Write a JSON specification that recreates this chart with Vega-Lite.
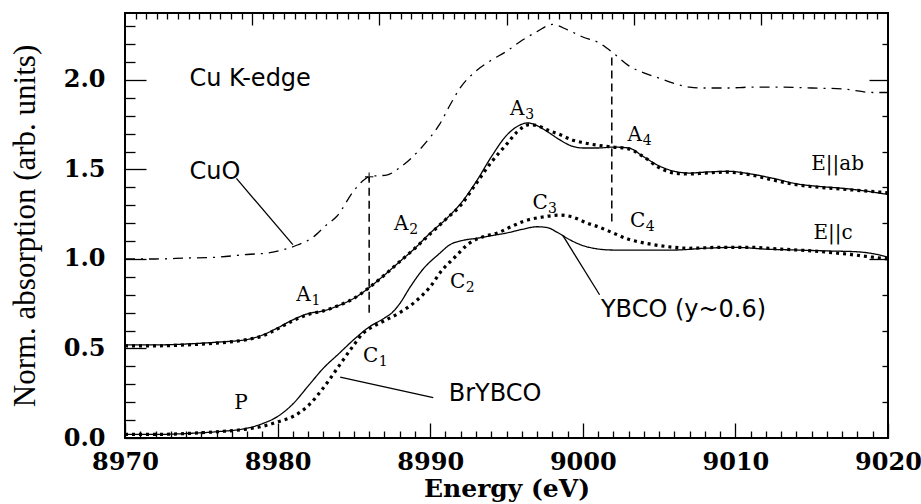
{
  "$schema": "https://vega.github.io/schema/vega-lite/v6.json",
  "width": 763,
  "height": 425,
  "autosize": {"type": "none"},
  "padding": {"left": 125, "top": 13, "right": 33, "bottom": 66},
  "background": "white",
  "config": {
    "view": {"stroke": "black", "strokeWidth": 2},
    "axis": {"domain": false, "grid": false, "labelOverlap": false, "labelBound": false, "labelFlush": false}
  },
  "datasets": {
    "curves": [
      {"series": "CuO", "E": 8970, "mu": 1.0},
      {"series": "CuO", "E": 8972, "mu": 1.0},
      {"series": "CuO", "E": 8974, "mu": 1.005},
      {"series": "CuO", "E": 8976, "mu": 1.01},
      {"series": "CuO", "E": 8978, "mu": 1.025},
      {"series": "CuO", "E": 8979.5, "mu": 1.035},
      {"series": "CuO", "E": 8980.5, "mu": 1.055},
      {"series": "CuO", "E": 8981.3, "mu": 1.078},
      {"series": "CuO", "E": 8982.3, "mu": 1.12},
      {"series": "CuO", "E": 8983.2, "mu": 1.19},
      {"series": "CuO", "E": 8983.9, "mu": 1.24},
      {"series": "CuO", "E": 8984.9, "mu": 1.37},
      {"series": "CuO", "E": 8985.5, "mu": 1.43},
      {"series": "CuO", "E": 8986, "mu": 1.46},
      {"series": "CuO", "E": 8987.2, "mu": 1.47},
      {"series": "CuO", "E": 8988, "mu": 1.51},
      {"series": "CuO", "E": 8989.3, "mu": 1.61},
      {"series": "CuO", "E": 8990, "mu": 1.68},
      {"series": "CuO", "E": 8990.6, "mu": 1.75},
      {"series": "CuO", "E": 8991.3, "mu": 1.86},
      {"series": "CuO", "E": 8992, "mu": 1.96},
      {"series": "CuO", "E": 8993, "mu": 2.05},
      {"series": "CuO", "E": 8994, "mu": 2.11},
      {"series": "CuO", "E": 8995, "mu": 2.16},
      {"series": "CuO", "E": 8996, "mu": 2.22},
      {"series": "CuO", "E": 8997, "mu": 2.27},
      {"series": "CuO", "E": 8998, "mu": 2.31},
      {"series": "CuO", "E": 8999, "mu": 2.28},
      {"series": "CuO", "E": 9000, "mu": 2.24},
      {"series": "CuO", "E": 9001, "mu": 2.21},
      {"series": "CuO", "E": 9002, "mu": 2.15},
      {"series": "CuO", "E": 9003, "mu": 2.08},
      {"series": "CuO", "E": 9004, "mu": 2.04},
      {"series": "CuO", "E": 9005, "mu": 2.01},
      {"series": "CuO", "E": 9006, "mu": 1.98},
      {"series": "CuO", "E": 9007, "mu": 1.96},
      {"series": "CuO", "E": 9008, "mu": 1.955},
      {"series": "CuO", "E": 9009.5, "mu": 1.955},
      {"series": "CuO", "E": 9011, "mu": 1.96},
      {"series": "CuO", "E": 9013, "mu": 1.96},
      {"series": "CuO", "E": 9015, "mu": 1.955},
      {"series": "CuO", "E": 9017, "mu": 1.95},
      {"series": "CuO", "E": 9019, "mu": 1.93},
      {"series": "CuO", "E": 9020, "mu": 1.93},
      {"series": "YBCO ab", "E": 8970, "mu": 0.52},
      {"series": "YBCO ab", "E": 8972, "mu": 0.52},
      {"series": "YBCO ab", "E": 8974, "mu": 0.525},
      {"series": "YBCO ab", "E": 8976, "mu": 0.535},
      {"series": "YBCO ab", "E": 8978, "mu": 0.55},
      {"series": "YBCO ab", "E": 8979, "mu": 0.575},
      {"series": "YBCO ab", "E": 8980, "mu": 0.615},
      {"series": "YBCO ab", "E": 8981, "mu": 0.66},
      {"series": "YBCO ab", "E": 8982, "mu": 0.695},
      {"series": "YBCO ab", "E": 8983, "mu": 0.71},
      {"series": "YBCO ab", "E": 8984, "mu": 0.74},
      {"series": "YBCO ab", "E": 8985, "mu": 0.78},
      {"series": "YBCO ab", "E": 8986, "mu": 0.84},
      {"series": "YBCO ab", "E": 8987, "mu": 0.91},
      {"series": "YBCO ab", "E": 8988, "mu": 0.985},
      {"series": "YBCO ab", "E": 8989, "mu": 1.06},
      {"series": "YBCO ab", "E": 8990, "mu": 1.145},
      {"series": "YBCO ab", "E": 8991, "mu": 1.22},
      {"series": "YBCO ab", "E": 8992, "mu": 1.31},
      {"series": "YBCO ab", "E": 8993, "mu": 1.43},
      {"series": "YBCO ab", "E": 8994, "mu": 1.57},
      {"series": "YBCO ab", "E": 8995, "mu": 1.69},
      {"series": "YBCO ab", "E": 8995.7, "mu": 1.74},
      {"series": "YBCO ab", "E": 8996.4, "mu": 1.76},
      {"series": "YBCO ab", "E": 8997, "mu": 1.745},
      {"series": "YBCO ab", "E": 8997.7, "mu": 1.71},
      {"series": "YBCO ab", "E": 8998.5, "mu": 1.665},
      {"series": "YBCO ab", "E": 8999.3, "mu": 1.63},
      {"series": "YBCO ab", "E": 9000, "mu": 1.62},
      {"series": "YBCO ab", "E": 9001, "mu": 1.62},
      {"series": "YBCO ab", "E": 9002, "mu": 1.625},
      {"series": "YBCO ab", "E": 9003, "mu": 1.62},
      {"series": "YBCO ab", "E": 9004, "mu": 1.57},
      {"series": "YBCO ab", "E": 9005, "mu": 1.52},
      {"series": "YBCO ab", "E": 9006, "mu": 1.49},
      {"series": "YBCO ab", "E": 9007, "mu": 1.48},
      {"series": "YBCO ab", "E": 9008, "mu": 1.485},
      {"series": "YBCO ab", "E": 9009.5, "mu": 1.49},
      {"series": "YBCO ab", "E": 9011, "mu": 1.475},
      {"series": "YBCO ab", "E": 9012.5, "mu": 1.45},
      {"series": "YBCO ab", "E": 9014, "mu": 1.42},
      {"series": "YBCO ab", "E": 9015.5, "mu": 1.405},
      {"series": "YBCO ab", "E": 9017, "mu": 1.395},
      {"series": "YBCO ab", "E": 9018.5, "mu": 1.38},
      {"series": "YBCO ab", "E": 9020, "mu": 1.36},
      {"series": "YBCO c", "E": 8970, "mu": 0.02},
      {"series": "YBCO c", "E": 8972, "mu": 0.02},
      {"series": "YBCO c", "E": 8974, "mu": 0.025},
      {"series": "YBCO c", "E": 8976, "mu": 0.035},
      {"series": "YBCO c", "E": 8978, "mu": 0.055},
      {"series": "YBCO c", "E": 8979, "mu": 0.08},
      {"series": "YBCO c", "E": 8980, "mu": 0.12},
      {"series": "YBCO c", "E": 8981, "mu": 0.19},
      {"series": "YBCO c", "E": 8982, "mu": 0.29},
      {"series": "YBCO c", "E": 8983, "mu": 0.39},
      {"series": "YBCO c", "E": 8984, "mu": 0.47},
      {"series": "YBCO c", "E": 8985, "mu": 0.55},
      {"series": "YBCO c", "E": 8986, "mu": 0.62},
      {"series": "YBCO c", "E": 8987, "mu": 0.67},
      {"series": "YBCO c", "E": 8987.5, "mu": 0.70},
      {"series": "YBCO c", "E": 8988, "mu": 0.75},
      {"series": "YBCO c", "E": 8988.7, "mu": 0.845},
      {"series": "YBCO c", "E": 8989.5, "mu": 0.94},
      {"series": "YBCO c", "E": 8990.6, "mu": 1.03},
      {"series": "YBCO c", "E": 8991.3, "mu": 1.08},
      {"series": "YBCO c", "E": 8992.2, "mu": 1.105},
      {"series": "YBCO c", "E": 8993, "mu": 1.115},
      {"series": "YBCO c", "E": 8994, "mu": 1.13},
      {"series": "YBCO c", "E": 8995, "mu": 1.145},
      {"series": "YBCO c", "E": 8996, "mu": 1.165},
      {"series": "YBCO c", "E": 8997, "mu": 1.18},
      {"series": "YBCO c", "E": 8997.7, "mu": 1.175},
      {"series": "YBCO c", "E": 8998.3, "mu": 1.15},
      {"series": "YBCO c", "E": 8999.2, "mu": 1.105},
      {"series": "YBCO c", "E": 9000, "mu": 1.075},
      {"series": "YBCO c", "E": 9000.7, "mu": 1.06},
      {"series": "YBCO c", "E": 9002, "mu": 1.05},
      {"series": "YBCO c", "E": 9004, "mu": 1.05},
      {"series": "YBCO c", "E": 9006, "mu": 1.05},
      {"series": "YBCO c", "E": 9008, "mu": 1.06},
      {"series": "YBCO c", "E": 9010, "mu": 1.065},
      {"series": "YBCO c", "E": 9012, "mu": 1.055},
      {"series": "YBCO c", "E": 9014, "mu": 1.05},
      {"series": "YBCO c", "E": 9016, "mu": 1.045},
      {"series": "YBCO c", "E": 9018, "mu": 1.04},
      {"series": "YBCO c", "E": 9019, "mu": 1.03},
      {"series": "YBCO c", "E": 9020, "mu": 1.01}
    ],
    "dotted": [
      {"series": "BrYBCO ab", "E": 8970, "mu": 0.515},
      {"series": "BrYBCO ab", "E": 8972, "mu": 0.515},
      {"series": "BrYBCO ab", "E": 8974, "mu": 0.52},
      {"series": "BrYBCO ab", "E": 8976, "mu": 0.53},
      {"series": "BrYBCO ab", "E": 8978, "mu": 0.55},
      {"series": "BrYBCO ab", "E": 8979, "mu": 0.57},
      {"series": "BrYBCO ab", "E": 8980, "mu": 0.61},
      {"series": "BrYBCO ab", "E": 8981, "mu": 0.655},
      {"series": "BrYBCO ab", "E": 8982, "mu": 0.69},
      {"series": "BrYBCO ab", "E": 8983, "mu": 0.71},
      {"series": "BrYBCO ab", "E": 8984, "mu": 0.74},
      {"series": "BrYBCO ab", "E": 8985, "mu": 0.78},
      {"series": "BrYBCO ab", "E": 8986, "mu": 0.84},
      {"series": "BrYBCO ab", "E": 8987, "mu": 0.91},
      {"series": "BrYBCO ab", "E": 8988, "mu": 0.985},
      {"series": "BrYBCO ab", "E": 8989, "mu": 1.06},
      {"series": "BrYBCO ab", "E": 8990, "mu": 1.14},
      {"series": "BrYBCO ab", "E": 8991, "mu": 1.22},
      {"series": "BrYBCO ab", "E": 8992, "mu": 1.30},
      {"series": "BrYBCO ab", "E": 8993, "mu": 1.42},
      {"series": "BrYBCO ab", "E": 8994, "mu": 1.54},
      {"series": "BrYBCO ab", "E": 8995, "mu": 1.64},
      {"series": "BrYBCO ab", "E": 8995.7, "mu": 1.71},
      {"series": "BrYBCO ab", "E": 8996.5, "mu": 1.75},
      {"series": "BrYBCO ab", "E": 8997, "mu": 1.745},
      {"series": "BrYBCO ab", "E": 8997.7, "mu": 1.72},
      {"series": "BrYBCO ab", "E": 8998.5, "mu": 1.695},
      {"series": "BrYBCO ab", "E": 8999.3, "mu": 1.665},
      {"series": "BrYBCO ab", "E": 9000, "mu": 1.65},
      {"series": "BrYBCO ab", "E": 9001, "mu": 1.635},
      {"series": "BrYBCO ab", "E": 9002, "mu": 1.625},
      {"series": "BrYBCO ab", "E": 9003, "mu": 1.615},
      {"series": "BrYBCO ab", "E": 9004, "mu": 1.57},
      {"series": "BrYBCO ab", "E": 9005, "mu": 1.51},
      {"series": "BrYBCO ab", "E": 9006, "mu": 1.48},
      {"series": "BrYBCO ab", "E": 9007, "mu": 1.475},
      {"series": "BrYBCO ab", "E": 9008, "mu": 1.48},
      {"series": "BrYBCO ab", "E": 9009.5, "mu": 1.485},
      {"series": "BrYBCO ab", "E": 9011, "mu": 1.47},
      {"series": "BrYBCO ab", "E": 9012.5, "mu": 1.44},
      {"series": "BrYBCO ab", "E": 9014, "mu": 1.415},
      {"series": "BrYBCO ab", "E": 9015.5, "mu": 1.40},
      {"series": "BrYBCO ab", "E": 9017, "mu": 1.39},
      {"series": "BrYBCO ab", "E": 9018.5, "mu": 1.38},
      {"series": "BrYBCO ab", "E": 9020, "mu": 1.37},
      {"series": "BrYBCO c", "E": 8970, "mu": 0.02},
      {"series": "BrYBCO c", "E": 8972, "mu": 0.02},
      {"series": "BrYBCO c", "E": 8974, "mu": 0.025},
      {"series": "BrYBCO c", "E": 8976, "mu": 0.035},
      {"series": "BrYBCO c", "E": 8978, "mu": 0.05},
      {"series": "BrYBCO c", "E": 8979, "mu": 0.065},
      {"series": "BrYBCO c", "E": 8980, "mu": 0.09},
      {"series": "BrYBCO c", "E": 8981, "mu": 0.12},
      {"series": "BrYBCO c", "E": 8982, "mu": 0.18},
      {"series": "BrYBCO c", "E": 8983, "mu": 0.28},
      {"series": "BrYBCO c", "E": 8984, "mu": 0.40},
      {"series": "BrYBCO c", "E": 8985, "mu": 0.52},
      {"series": "BrYBCO c", "E": 8985.6, "mu": 0.585},
      {"series": "BrYBCO c", "E": 8986.2, "mu": 0.62},
      {"series": "BrYBCO c", "E": 8987, "mu": 0.655},
      {"series": "BrYBCO c", "E": 8988, "mu": 0.70},
      {"series": "BrYBCO c", "E": 8989, "mu": 0.76},
      {"series": "BrYBCO c", "E": 8990, "mu": 0.845},
      {"series": "BrYBCO c", "E": 8990.8, "mu": 0.94},
      {"series": "BrYBCO c", "E": 8991.5, "mu": 1.0},
      {"series": "BrYBCO c", "E": 8992.6, "mu": 1.09},
      {"series": "BrYBCO c", "E": 8993.5, "mu": 1.125},
      {"series": "BrYBCO c", "E": 8994.4, "mu": 1.145},
      {"series": "BrYBCO c", "E": 8995.3, "mu": 1.18},
      {"series": "BrYBCO c", "E": 8996.1, "mu": 1.21},
      {"series": "BrYBCO c", "E": 8997.4, "mu": 1.235},
      {"series": "BrYBCO c", "E": 8998.5, "mu": 1.245},
      {"series": "BrYBCO c", "E": 8999.3, "mu": 1.235},
      {"series": "BrYBCO c", "E": 9000.3, "mu": 1.20},
      {"series": "BrYBCO c", "E": 9001, "mu": 1.18},
      {"series": "BrYBCO c", "E": 9002, "mu": 1.145},
      {"series": "BrYBCO c", "E": 9003, "mu": 1.11},
      {"series": "BrYBCO c", "E": 9004, "mu": 1.09},
      {"series": "BrYBCO c", "E": 9005, "mu": 1.075},
      {"series": "BrYBCO c", "E": 9006, "mu": 1.065},
      {"series": "BrYBCO c", "E": 9007, "mu": 1.06},
      {"series": "BrYBCO c", "E": 9009, "mu": 1.065},
      {"series": "BrYBCO c", "E": 9011, "mu": 1.065},
      {"series": "BrYBCO c", "E": 9013, "mu": 1.055},
      {"series": "BrYBCO c", "E": 9015, "mu": 1.045},
      {"series": "BrYBCO c", "E": 9017, "mu": 1.03},
      {"series": "BrYBCO c", "E": 9019, "mu": 1.01},
      {"series": "BrYBCO c", "E": 9020, "mu": 1.0}
    ],
    "vlines": [
      {"E": 8986, "lo": 0.70, "hi": 1.46},
      {"E": 9001.9, "lo": 1.21, "hi": 2.13}
    ],
    "leaders": [
      {"E": 8977.3, "E2": 8981.0, "lo": 1.45, "hi": 1.08},
      {"E": 8998.7, "E2": 9001.1, "lo": 1.13, "hi": 0.80},
      {"E": 8984.1, "E2": 8990.2, "lo": 0.34, "hi": 0.225}
    ],
    "cross": [
      {"E": 8986, "mu": 1.46}
    ],
    "serifLabels": [
      {"label": "A", "sub": "1", "E": 8981.7, "mu": 0.80},
      {"label": "A", "sub": "2", "E": 8988.1, "mu": 1.195},
      {"label": "A", "sub": "3", "E": 8995.7, "mu": 1.84},
      {"label": "A", "sub": "4", "E": 9003.4, "mu": 1.69},
      {"label": "C", "sub": "3", "E": 8997.2, "mu": 1.31},
      {"label": "C", "sub": "4", "E": 9003.6, "mu": 1.21},
      {"label": "C", "sub": "2", "E": 8991.8, "mu": 0.87},
      {"label": "C", "sub": "1", "E": 8986.1, "mu": 0.46},
      {"label": "E||ab", "sub": "", "E": 9016.7, "mu": 1.53},
      {"label": "E||c", "sub": "", "E": 9016.4, "mu": 1.145},
      {"label": "P", "sub": "", "E": 8977.6, "mu": 0.195}
    ],
    "sansLabels": [
      {"label": "Cu K-edge", "E": 8978.2, "mu": 2.005},
      {"label": "CuO", "E": 8975.9, "mu": 1.486},
      {"label": "YBCO (y~0.6)", "E": 9006.6, "mu": 0.715},
      {"label": "BrYBCO", "E": 8994.25, "mu": 0.245}
    ]
  },
  "layer": [
    {
      "data": {"name": "curves"},
      "mark": {"type": "line", "interpolate": "monotone", "color": "black", "strokeWidth": 1.3},
      "encoding": {
        "x": {
          "field": "E", "type": "quantitative",
          "scale": {"domain": [8970, 9020], "nice": false, "zero": false},
          "axis": {
            "orient": "bottom",
            "values": [8970,8971,8972,8973,8974,8975,8976,8977,8978,8979,8980,8981,8982,8983,8984,8985,8986,8987,8988,8989,8990,8991,8992,8993,8994,8995,8996,8997,8998,8999,9000,9001,9002,9003,9004,9005,9006,9007,9008,9009,9010,9011,9012,9013,9014,9015,9016,9017,9018,9019,9020],
            "tickSize": {"condition": {"test": "datum.value % 10 === 0", "value": -15}, "value": -7},
            "tickColor": "black",
            "tickWidth": 1.3,
            "labelExpr": "datum.value % 10 === 0 ? datum.label : ''",
            "format": "d",
            "labelFont": "DejaVu Serif", "labelFontWeight": "bold", "labelFontSize": 24,
            "labelPadding": 27,
            "title": "Energy (eV)",
            "titleFont": "DejaVu Serif", "titleFontWeight": "bold", "titleFontSize": 25,
            "titlePadding": -6
          }
        },
        "y": {
          "field": "mu", "type": "quantitative",
          "scale": {"domain": [0, 2.374], "nice": false, "zero": false},
          "axis": {
            "orient": "left",
            "values": [0,0.1,0.2,0.3,0.4,0.5,0.6,0.7,0.8,0.9,1,1.1,1.2,1.3,1.4,1.5,1.6,1.7,1.8,1.9,2,2.1,2.2,2.3],
            "tickSize": {"condition": {"test": "abs(datum.value*2 - round(datum.value*2)) < 0.001", "value": -21}, "value": -10},
            "tickColor": "black",
            "tickWidth": 1.3,
            "labelExpr": "abs(datum.value*2 - round(datum.value*2)) < 0.001 ? format(datum.value, '.1f') : ''",
            "labelFont": "DejaVu Serif", "labelFontWeight": "bold", "labelFontSize": 24,
            "labelPadding": 41,
            "title": "Norm. absorption (arb. units)",
            "titleFont": "Liberation Serif", "titleFontWeight": "normal", "titleFontSize": 31,
            "titlePadding": 22
          }
        },
        "strokeDash": {
          "field": "series", "type": "nominal", "legend": null,
          "scale": {"domain": ["CuO", "YBCO ab", "YBCO c"], "range": [[10, 6, 2, 6], [1, 0], [1, 0]]}
        }
      }
    },
    {
      "data": {"name": "vlines"},
      "mark": {"type": "rule", "strokeDash": [8, 5], "color": "black", "strokeWidth": 1.5},
      "encoding": {
        "x": {
          "field": "E", "type": "quantitative",
          "scale": {"domain": [8970, 9020], "nice": false, "zero": false},
          "axis": {
            "orient": "top",
            "values": [8970.694,8971.389,8972.083,8972.778,8973.472,8974.167,8974.861,8975.556,8976.25,8976.944,8977.639,8978.333,8979.028,8979.722,8980.417,8981.111,8981.806,8982.5,8983.194,8983.889,8984.583,8985.278,8985.972,8986.667,8987.361,8988.056,8988.75,8989.444,8990.139,8990.833,8991.528,8992.222,8992.917,8993.611,8994.306,8995,8995.694,8996.389,8997.083,8997.778,8998.472,8999.167,8999.861,9000.556,9001.25,9001.944,9002.639,9003.333,9004.028,9004.722,9005.417,9006.111,9006.806,9007.5,9008.194,9008.889,9009.583,9010.278,9010.972,9011.667,9012.361,9013.056,9013.75,9014.444,9015.139,9015.833,9016.528,9017.222,9017.917,9018.611,9019.306],
            "tickSize": {"condition": {"test": "abs((datum.value-8970)/8.333333 - round((datum.value-8970)/8.333333)) < 0.01", "value": -12}, "value": -6},
            "tickColor": "black",
            "tickWidth": 1.3,
            "labels": false,
            "title": null
          }
        },
        "y": {
          "field": "lo", "type": "quantitative",
          "scale": {"domain": [0, 2.374], "nice": false, "zero": false},
          "axis": {
            "orient": "right",
            "values": [0.2,0.4,0.6,0.8,1,1.2,1.4,1.6,1.8,2,2.2],
            "tickSize": {"condition": {"test": "abs(datum.value - round(datum.value)) < 0.001", "value": -19}, "value": -6},
            "tickColor": "black",
            "tickWidth": 1.3,
            "labels": false,
            "title": null
          }
        },
        "y2": {"field": "hi"}
      }
    },
    {
      "data": {"name": "dotted"},
      "mark": {"type": "line", "interpolate": "monotone", "color": "black", "strokeWidth": 3.2, "strokeDash": [3, 4]},
      "encoding": {
        "x": {"field": "E", "type": "quantitative", "axis": null},
        "y": {"field": "mu", "type": "quantitative", "axis": null},
        "detail": {"field": "series", "type": "nominal"}
      }
    },
    {
      "data": {"name": "leaders"},
      "mark": {"type": "rule", "color": "black", "strokeWidth": 1.3},
      "encoding": {
        "x": {"field": "E", "type": "quantitative", "axis": null},
        "x2": {"field": "E2"},
        "y": {"field": "lo", "type": "quantitative", "axis": null},
        "y2": {"field": "hi"}
      }
    },
    {
      "data": {"name": "cross"},
      "mark": {"type": "point", "shape": "M-1,0L1,0M0,-1L0,1", "size": 70, "stroke": "black", "strokeWidth": 1.5, "filled": false},
      "encoding": {
        "x": {"field": "E", "type": "quantitative", "axis": null},
        "y": {"field": "mu", "type": "quantitative", "axis": null}
      }
    },
    {
      "data": {"name": "serifLabels"},
      "mark": {"type": "text", "font": "DejaVu Serif", "fontSize": 20, "align": "center", "baseline": "middle", "color": "black"},
      "encoding": {
        "x": {"field": "E", "type": "quantitative", "axis": null},
        "y": {"field": "mu", "type": "quantitative", "axis": null},
        "text": {"field": "label", "type": "nominal"}
      }
    },
    {
      "data": {"name": "serifLabels"},
      "mark": {"type": "text", "font": "DejaVu Serif", "fontSize": 14, "align": "left", "baseline": "middle", "dx": 8, "dy": 6, "color": "black"},
      "encoding": {
        "x": {"field": "E", "type": "quantitative", "axis": null},
        "y": {"field": "mu", "type": "quantitative", "axis": null},
        "text": {"field": "sub", "type": "nominal"}
      }
    },
    {
      "data": {"name": "sansLabels"},
      "mark": {"type": "text", "font": "DejaVu Sans", "fontSize": 24, "align": "center", "baseline": "middle", "color": "black"},
      "encoding": {
        "x": {"field": "E", "type": "quantitative", "axis": null},
        "y": {"field": "mu", "type": "quantitative", "axis": null},
        "text": {"field": "label", "type": "nominal"}
      }
    }
  ],
  "resolve": {"axis": {"x": "independent", "y": "independent"}}
}
